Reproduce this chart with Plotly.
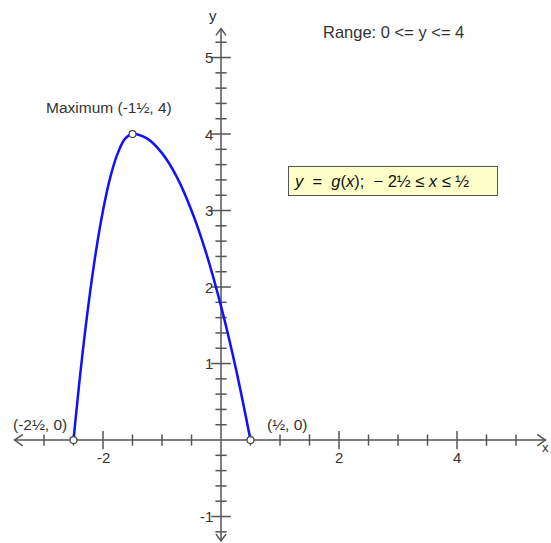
import plotly.graph_objects as go

# g(x), from (-2½, 0) over the maximum to (½, 0)
curve_x = [-2.5, -2.375, -2.25, -2.125, -2.0, -1.875, -1.75, -1.625, -1.5,
           -1.25, -1.0, -0.75, -0.5, -0.25, 0.0, 0.25, 0.5]
curve_y = [0.0, 0.94, 1.75, 2.44, 3.0, 3.44, 3.75, 3.94, 4.0,
           3.94, 3.75, 3.44, 3.0, 2.44, 1.75, 0.94, 0.0]

# marked points: endpoints and the maximum
point_x = [-2.5, -1.5, 0.5]
point_y = [0.0, 4.0, 0.0]

# axis extents and tick values
x_axis_span = [-3.5, 5.5]
y_axis_span = [-1.32, 5.38]
x_minor_ticks = [-3.0, -2.5, -1.5, -1.0, -0.5, 0.5, 1.0, 1.5, 2.5, 3.0, 3.5, 4.5, 5.0]
x_major_ticks = [-2.0, 2.0, 4.0]
x_tick_labels = ["-2", "2", "4"]
y_minor_ticks = [-1.2, -0.8, -0.6, -0.4, -0.2, 0.2, 0.4, 0.6, 0.8, 1.2, 1.4, 1.6, 1.8,
                 2.2, 2.4, 2.6, 2.8, 3.2, 3.4, 3.6, 3.8, 4.2, 4.4, 4.6, 4.8, 5.2]
y_major_ticks = [-1.0, 1.0, 2.0, 3.0, 4.0, 5.0]
y_tick_labels = ["-1", "1", "2", "3", "4", "5"]

AXIS = "#555555"
TEXT = "#333333"
FONT = "Liberation Sans, Arial, sans-serif"

fig = go.Figure()

# axis lines
fig.add_trace(go.Scatter(x=x_axis_span, y=[0, 0], mode="lines",
                         line=dict(color=AXIS, width=1.5), hoverinfo="skip"))
fig.add_trace(go.Scatter(x=[0, 0], y=y_axis_span, mode="lines",
                         line=dict(color=AXIS, width=1.5), hoverinfo="skip"))

# open chevron arrow heads at the axis ends
ax, ay = 0.14, 0.075   # arrow size in data units
bx, by = 0.085, 0.09
fig.add_trace(go.Scatter(
    x=[x_axis_span[1] - ax, x_axis_span[1], x_axis_span[1] - ax, None,
       x_axis_span[0] + ax, x_axis_span[0], x_axis_span[0] + ax, None,
       -bx, 0, bx, None, -bx, 0, bx],
    y=[ay, 0, -ay, None, ay, 0, -ay, None,
       y_axis_span[1] - by, y_axis_span[1], y_axis_span[1] - by, None,
       y_axis_span[0] + by, y_axis_span[0], y_axis_span[0] + by],
    mode="lines", line=dict(color=AXIS, width=1.5), hoverinfo="skip"))


def tick_marks(xs, ys, symbol, size):
    return go.Scatter(x=xs, y=ys, mode="markers", hoverinfo="skip",
                      marker=dict(symbol=symbol, size=size, color=AXIS,
                                  line=dict(color=AXIS, width=1.5)))


# tick marks crossing the axes
fig.add_trace(tick_marks(x_minor_ticks, [0] * len(x_minor_ticks), "line-ns-open", 8))
fig.add_trace(tick_marks(x_major_ticks, [0] * len(x_major_ticks), "line-ns-open", 13))
fig.add_trace(tick_marks([0] * len(y_minor_ticks), y_minor_ticks, "line-ew-open", 8))
fig.add_trace(tick_marks([0] * len(y_major_ticks), y_major_ticks, "line-ew-open", 14))

# the graph of g
fig.add_trace(go.Scatter(x=curve_x, y=curve_y, mode="lines", line_shape="spline",
                         line=dict(color="#1010ff", width=2.5), hoverinfo="skip"))
fig.add_trace(go.Scatter(x=point_x, y=point_y, mode="markers",
                         marker=dict(symbol="circle", size=7, color="white",
                                     line=dict(color="#444444", width=1.2)),
                         hoverinfo="skip"))

annotations = []
for v, lab in zip(x_major_ticks, x_tick_labels):
    annotations.append(dict(x=v, y=-0.23, text=lab, showarrow=False,
                            font=dict(size=15, color=TEXT, family=FONT)))
for v, lab in zip(y_major_ticks, y_tick_labels):
    annotations.append(dict(x=-0.1, y=v, text=lab, showarrow=False, xanchor="right",
                            font=dict(size=15, color=TEXT, family=FONT)))

annotations += [
    dict(x=-0.14, y=5.55, text="y", showarrow=False,
         font=dict(size=15, color=TEXT, family=FONT)),
    dict(x=5.593, y=-0.1, text="x", showarrow=False, xanchor="right",
         font=dict(size=13, color=TEXT, family=FONT)),
    dict(x=-1.9, y=4.35, text="Maximum (-1½, 4)", showarrow=False,
         font=dict(size=15.5, color=TEXT, family=FONT)),
    dict(x=-3.07, y=0.2, text="(-2½, 0)", showarrow=False,
         font=dict(size=15.5, color=TEXT, family=FONT)),
    dict(x=1.12, y=0.2, text="(½, 0)", showarrow=False,
         font=dict(size=15.5, color=TEXT, family=FONT)),
    dict(x=2.92, y=5.33, text="Range: 0 &lt;= y &lt;= 4", showarrow=False,
         font=dict(size=16.5, color=TEXT, family=FONT)),
    dict(x=2.92, y=3.39,
         text="<i>y</i>  =  <i>g</i>(<i>x</i>);  − 2½ ≤ <i>x</i> ≤ ½",
         showarrow=False, bgcolor="#ffffc8", bordercolor="#555555", borderwidth=1,
         borderpad=5, width=198, align="left",
         font=dict(size=16.5, color="#111111", family=FONT)),
]

fig.update_layout(
    width=551, height=543,
    margin=dict(l=0, r=0, t=0, b=0),
    paper_bgcolor="white", plot_bgcolor="white",
    showlegend=False,
    xaxis=dict(range=[-3.746, 5.593], visible=False, fixedrange=True),
    yaxis=dict(range=[-1.346, 5.752], visible=False, fixedrange=True),
    annotations=annotations,
)

fig.write_html("out.html")
